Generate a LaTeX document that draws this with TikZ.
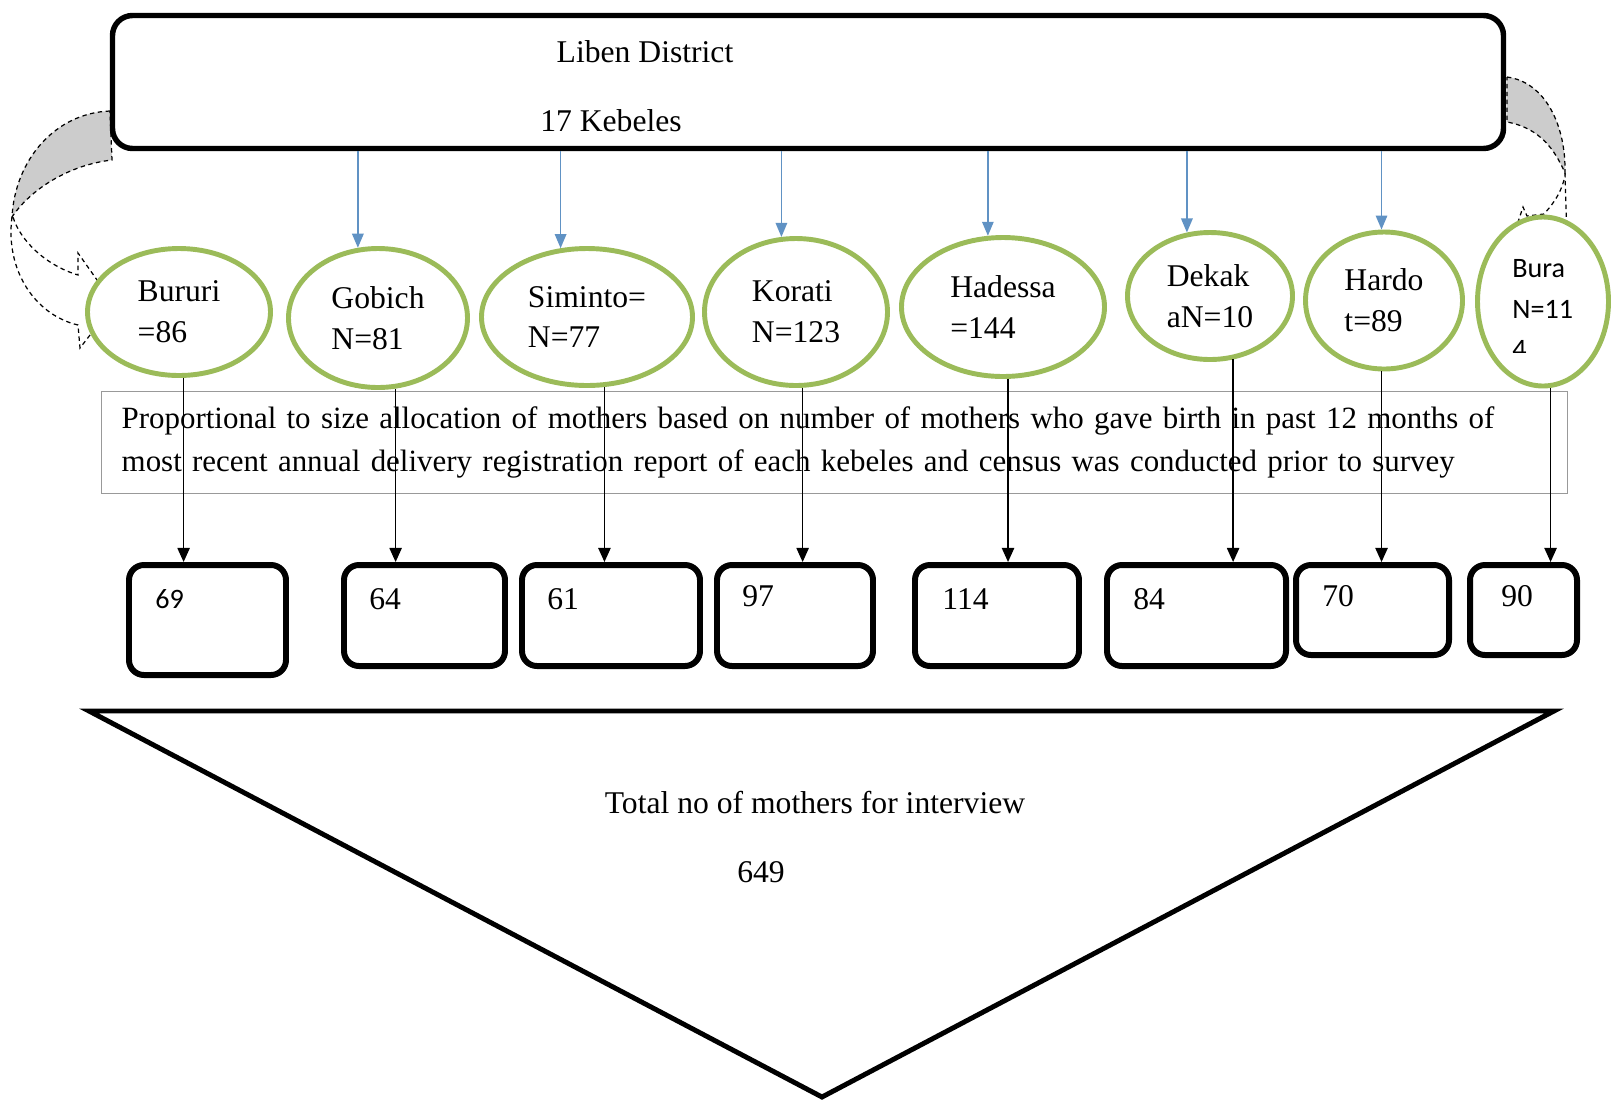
\documentclass[tikz,border=0pt]{standalone}
\usepackage{fontspec}
\setmainfont{Liberation Serif}
\newfontfamily\calib{Carlito}
\usetikzlibrary{arrows.meta,shapes.geometric,calc}
\definecolor{kgreen}{RGB}{155,187,89}
\definecolor{kblue}{RGB}{96,146,196}

\begin{document}
\begin{tikzpicture}[x=0.2mm,y=-0.2mm,
  font=\fontsize{18}{24.4}\selectfont,
  keb/.style 2 args={draw=kgreen,line width=2.8pt,fill=white,ellipse,inner sep=0pt,
    minimum width=#1*0.2mm,minimum height=#2*0.2mm,align=left,font=\fontsize{18}{23.2}\selectfont},
  cnt/.style 2 args={draw,line width=3.4pt,rounded corners=3mm,inner sep=0pt,
    minimum width=#1*0.2mm,minimum height=#2*0.2mm},
  num/.style={anchor=west,inner sep=0pt},
  blu/.style={-{Triangle[length=8pt,width=6.5pt]},kblue,line width=1pt},
  blk/.style={-{Triangle[length=8pt,width=7pt]},line width=0.8pt},
  curv/.style={dash pattern=on 2.5pt off 2pt,line width=0.7pt}]
\fill[white] (0,0) rectangle (1611,1099);
\useasboundingbox (0,0) rectangle (1611,1099);
% curved arrows at both ends
\draw[curv,fill=gray!40] (110,111) .. controls (55,113) and (15,160) .. (12,217)
  .. controls (30,190) and (68,165) .. (112,160) -- cycle;
\draw[curv] (12,217) .. controls (5,270) and (35,315) .. (78,325) -- (80,348) -- (114,304)
  -- (78,253) -- (78,275) .. controls (45,265) and (20,240) .. (13,217);
\draw[curv,fill=gray!40] (1507,77) .. controls (1545,82) and (1566,125) .. (1565,173)
  .. controls (1555,150) and (1540,128) .. (1507,122) -- cycle;
\draw[curv] (1565,173) -- (1567,240);
\draw[curv] (1564,180) .. controls (1560,195) and (1552,205) .. (1544,214) -- (1527,216)
  -- (1523,207) -- (1518,222);
% district
\node[draw,line width=3.1pt,rounded corners=4mm,fill=white,minimum width=1391*0.2mm,
  minimum height=133*0.2mm] (district) at (808,82) {};
\node (dname) at (645,52) {Liben District};
\node (nkeb) at (611,121) {17 Kebeles};
% kebeles
\node[keb={183}{127}] (bur) at (179,312) {Bururi\\=86};
\node[keb={179}{139}] (gob) at (378,318) {Gobich\\N=81};
\node[keb={211}{137}] (sim) at (587,317) {Siminto=\\N=77};
\node[keb={183}{147}] (kor) at (796,312) {Korati\\N=123};
\node[keb={203}{139}] (had) at (1003,307) {Hadessa\\=144};
\node[keb={165}{127}] (dek) at (1210,296) {Dekak\\aN=10};
\node[keb={157}{137}] (har) at (1384,300.5) {Hardo\\t=89};
\node[keb={131}{169}] (bura) at (1543,301.5) {};
\begin{scope}
  \clip (1480,240) rectangle (1600,352);
  \node[anchor=north west,inner sep=0pt,align=left,font=\calib\fontsize{16}{23.2}\selectfont]
    (buratxt) at (1512,259) {Bura\\N=11\\4};
\end{scope}
\draw[blu] (gob.106 |- district.south) -- (gob.106);
\draw[blu] (sim.111 |- district.south) -- (sim.111);
\draw[blu] (kor.101 |- district.south) -- (kor.101);
\draw[blu] (had.102 |- district.south) -- (had.102);
\draw[blu] (dek.110 |- district.south) -- (dek.110);
\draw[blu] (har.92 |- district.south) -- (har.92);
% allocation note
\node[draw=gray!80,line width=0.8pt,anchor=north west,text width=1426*0.2mm,align=left,
  inner xsep=20*0.2mm,inner ysep=0pt,minimum height=102*0.2mm,
  font=\fontsize{17.6}{24.4}\selectfont] (alloc) at (101,391)
  {Proportional to size allocation of mothers based on number of mothers who gave birth in past 12 months of\\
   most recent annual delivery registration report of each kebeles and census was conducted prior to survey};
% sample sizes
\node[cnt={157}{110}] (b69) at (207.5,620) {};
\node[cnt={161}{101}] (b64) at (424.5,615.5) {};
\node[cnt={178}{101}] (b61) at (611,615.5) {};
\node[cnt={156}{101}] (b97) at (795,615.5) {};
\node[cnt={164}{101}] (b114) at (997,615.5) {};
\node[cnt={179}{101}] (b84) at (1196.5,615.5) {};
\node[cnt={153}{90}] (b70) at (1372.5,610) {};
\node[cnt={107}{90}] (b90) at (1523.5,610) {};
\node[num,font=\calib\fontsize{16}{20}\selectfont] (t69) at (155,599) {69};
\node[num] (t64) at (369,599) {64};
\node[num] (t61) at (547,599) {61};
\node[num] (t97) at (742,596) {97};
\node[num] (t114) at (942,599) {114};
\node[num] (t84) at (1133,599) {84};
\node[num] (t70) at (1322,596) {70};
\node[num] (t90) at (1501,596) {90};
\draw[blk] (bur.-86) -- (bur.-86 |- b69.north);
\draw[blk] (gob.-76) -- (gob.-76 |- b64.north);
\draw[blk] (sim.-76) -- (sim.-76 |- b61.north);
\draw[blk] (kor.-85) -- (kor.-85 |- b97.north);
\draw[blk] (had.-86) -- (had.-86 |- b114.north);
\draw[blk] (dek.-70) -- (dek.-70 |- b84.north);
\draw[blk] (har.-92) -- (har.-92 |- b70.north);
\draw[blk] (bura.-85) -- (bura.-85 |- b90.north);
% total
\draw[line width=2.8pt] (89,711) -- (1554,711) -- (822,1097) -- cycle;
\node (tot) at (815,803) {Total no of mothers for interview};
\node (n649) at (761,872) {649};
\end{tikzpicture}
\end{document}
